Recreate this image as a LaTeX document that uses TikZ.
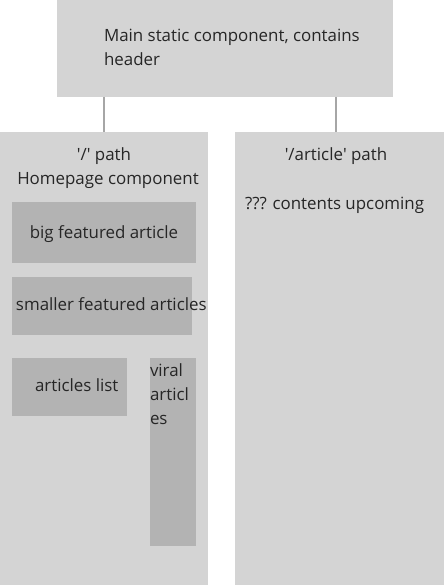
\documentclass[tikz,border=0pt]{standalone}
\usepackage{fontspec}
\setmainfont{Open Sans}
\definecolor{panel}{HTML}{D4D4D4}
\definecolor{inner}{HTML}{B3B3B3}
\definecolor{wire}{HTML}{A6A6A6}
\definecolor{ink}{HTML}{262626}
\newcommand{\sq}{\textquotesingle}
\begin{document}
\begin{tikzpicture}[x=1pt,y=-1pt,
  every node/.style={inner sep=0pt,outer sep=0pt,text=ink,font=\fontsize{16.9}{24}\selectfont},
  box/.style={fill=panel,draw=none},
  part/.style={fill=inner,draw=none},
  wire/.style={draw=wire,line width=1.4pt}]
\useasboundingbox[fill=white] (0,0) rectangle (444,585);
% outer shell
\node[box,minimum width=336pt,minimum height=97pt] (main) at (225,48.5) {};
\node[anchor=base west,align=left] (maintxt) at (104,66) {Main static component, contains\\header};
% route panels
\node[box,minimum width=208pt,minimum height=453pt] (home) at (104,358.5) {};
\node[box,minimum width=209pt,minimum height=453pt] (art) at (339.5,358.5) {};
\draw[wire] (main.south -| home.north) -- (home.north);
\draw[wire] ([xshift=-3.5pt]main.south -| art.north) -- ([xshift=-3.5pt]art.north);
\node[anchor=base] (hometitle) at (104,161) {\sq/\sq{} path};
\node[anchor=base] (homesub) at (108,185) {Homepage component};
\node[anchor=base] (arttitle) at (336,161) {\sq/article\sq{} path};
\node[anchor=base west] (arttxt) at (245,209) {??? contents upcoming};
% homepage parts
\node[part,minimum width=184pt,minimum height=61pt] (big) at (104,232.5) {};
\node[anchor=base] (bigtxt) at (104,238) {big featured article};
\node[part,minimum width=180pt,minimum height=58pt] (small) at (102,306) {};
\node[anchor=base west] (smalltxt) at (16,310) {smaller featured articles};
\node[part,minimum width=115pt,minimum height=58pt] (list) at (69.5,387) {};
\node[anchor=base west] (listtxt) at (35,391) {articles list};
\node[part,minimum width=46pt,minimum height=188pt] (viral) at (173,452) {};
\node[anchor=base west,align=left] (viraltxt) at (150,424) {viral\\articl\\es};
\end{tikzpicture}
\end{document}
